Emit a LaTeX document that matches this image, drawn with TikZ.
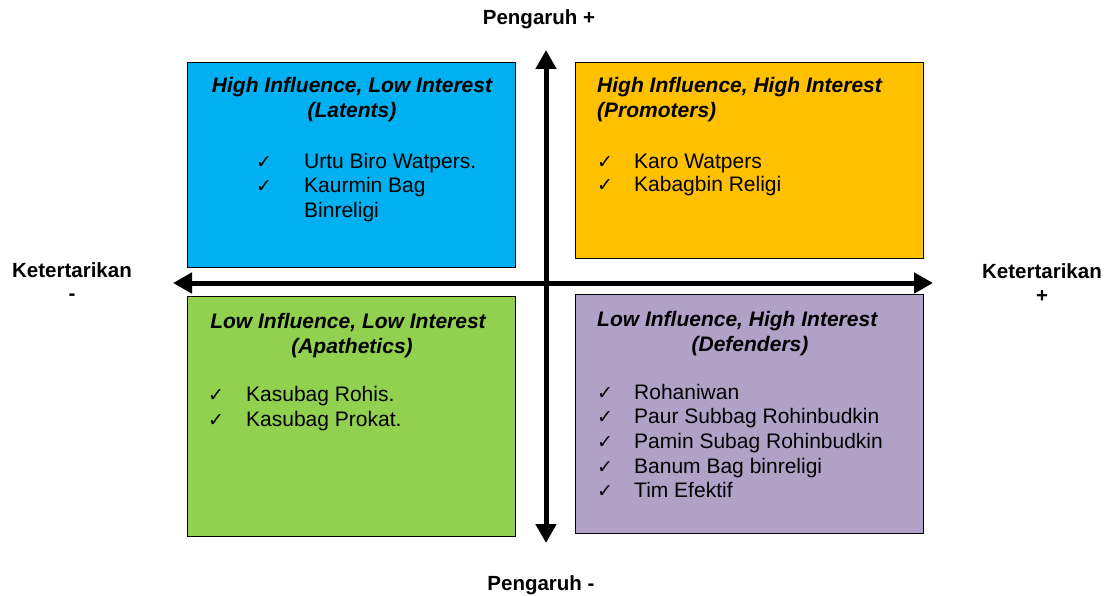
\documentclass[tikz,border=0pt]{standalone}
\usepackage{fontspec}
\setmainfont{Liberation Sans}
\newfontfamily\checkfont{DejaVu Sans}
\usetikzlibrary{arrows.meta}
\definecolor{qblue}{HTML}{00B0F0}
\definecolor{qorange}{HTML}{FFC000}
\definecolor{qgreen}{HTML}{92D050}
\definecolor{qpurple}{HTML}{B2A1C7}
\tikzset{
  quad/.style={draw=black, line width=1.4pt, anchor=north west, inner sep=0pt},
  ttl/.style={font=\fontsize{21}{24}\selectfont\bfseries\itshape, inner sep=0pt},
  itm/.style={font=\fontsize{21}{24.5}\selectfont, inner sep=0pt, anchor=base west},
  chk/.style={font=\checkfont\fontsize{19}{20}\selectfont, inner sep=0pt, anchor=base west},
  axlbl/.style={font=\fontsize{20.5}{24}\selectfont\bfseries, inner sep=0pt, anchor=base},
  axis/.style={line width=5pt, -{Triangle[width=20pt,length=19pt]}}
}
\begin{document}
\begin{tikzpicture}[x=1pt,y=-1pt]
\useasboundingbox (0,0) rectangle (1110,596);
% quadrants
\node[quad, fill=qblue, minimum width=328pt, minimum height=205pt] (tl) at (187,62) {};
\node[quad, fill=qorange, minimum width=348pt, minimum height=196pt] (tr) at (575,62) {};
\node[quad, fill=qgreen, minimum width=328pt, minimum height=240pt] (bl) at (187,296) {};
\node[quad, fill=qpurple, minimum width=348pt, minimum height=239pt] (br) at (575,294) {};
% axes
\coordinate (vtop) at (546,50);
\coordinate (vbot) at (546,543);
\coordinate (hleft) at (173,283);
\coordinate (hright) at (933,283);
\coordinate (center) at (546,283);
\draw[axis] (center) -- (vtop);
\draw[axis] (center) -- (vbot);
\draw[axis] (center) -- (hleft);
\draw[axis] (center) -- (hright);
% axis labels
\node[axlbl] (ptop) at (539,25) {Pengaruh +};
\node[axlbl] (pbot) at (541,590) {Pengaruh -};
\node[axlbl] (kleft1) at (72,277) {Ketertarikan};
\node[axlbl] (kleft2) at (72,300) {-};
\node[axlbl] (kright1) at (1042,278) {Ketertarikan};
\node[axlbl] (kright2) at (1042,302) {+};
% TL
\node[ttl, anchor=base] (tlt1) at (352,93) {High Influence, Low Interest};
\node[ttl, anchor=base] (tlt2) at (352,118) {(Latents)};
\node[chk] (tlc1) at (256,168) {✓};
\node[itm] (tli1) at (304,168) {Urtu Biro Watpers.};
\node[chk] (tlc2) at (256,193) {✓};
\node[itm] (tli2) at (304,193) {Kaurmin Bag};
\node[itm] (tli3) at (304,217) {Binreligi};
% TR
\node[ttl, anchor=base west] (trt1) at (597,93) {High Influence, High Interest};
\node[ttl, anchor=base west] (trt2) at (597,118) {(Promoters)};
\node[chk] (trc1) at (597,168) {✓};
\node[itm] (tri1) at (634,168) {Karo Watpers};
\node[chk] (trc2) at (597,192) {✓};
\node[itm] (tri2) at (634,192) {Kabagbin Religi};
% BL
\node[ttl, anchor=base] (blt1) at (348,328) {Low Influence, Low Interest};
\node[ttl, anchor=base] (blt2) at (352,353) {(Apathetics)};
\node[chk] (blc1) at (208,401) {✓};
\node[itm] (bli1) at (246,401) {Kasubag Rohis.};
\node[chk] (blc2) at (208,426) {✓};
\node[itm] (bli2) at (246,426) {Kasubag Prokat.};
% BR
\node[ttl, anchor=base west] (brt1) at (597,326) {Low Influence, High Interest};
\node[ttl, anchor=base] (brt2) at (750,351) {(Defenders)};
\node[chk] (brc1) at (597,399) {✓};
\node[itm] (bri1) at (634,399) {Rohaniwan};
\node[chk] (brc2) at (597,423) {✓};
\node[itm] (bri2) at (634,423) {Paur Subbag Rohinbudkin};
\node[chk] (brc3) at (597,448) {✓};
\node[itm] (bri3) at (634,448) {Pamin Subag Rohinbudkin};
\node[chk] (brc4) at (597,473) {✓};
\node[itm] (bri4) at (634,473) {Banum Bag binreligi};
\node[chk] (brc5) at (597,497) {✓};
\node[itm] (bri5) at (634,497) {Tim Efektif};
\end{tikzpicture}
\end{document}
